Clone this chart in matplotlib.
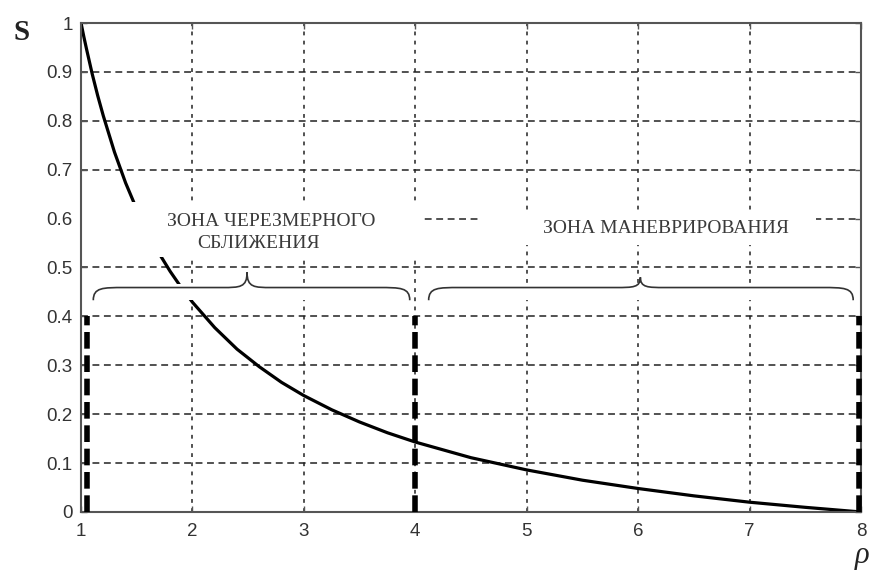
import matplotlib
matplotlib.use("Agg")
import matplotlib.pyplot as plt
from matplotlib.patches import Rectangle, PathPatch
from matplotlib.path import Path

# ---- data ----
rho = [1.0, 1.025, 1.05, 1.1, 1.15, 1.2, 1.3, 1.4, 1.5, 1.6, 1.7, 1.8, 1.9, 2.0, 2.2, 2.4,
       2.6, 2.8, 3.0, 3.25, 3.5, 3.75, 4.0, 4.5, 5.0, 5.5, 6.0, 6.5, 7.0, 7.5, 8.0]
S = [1.0, 0.972, 0.946, 0.896, 0.851, 0.810, 0.736, 0.673, 0.619, 0.571, 0.529, 0.492,
     0.459, 0.429, 0.377, 0.333, 0.297, 0.265, 0.238, 0.209, 0.184, 0.162, 0.143,
     0.111, 0.086, 0.065, 0.048, 0.033, 0.020, 0.0095, 0.0]

zone_bounds = [1.05, 4.0, 7.985]      # thick dashed boundary lines
zone_height = 0.4
x_ticks = [1, 2, 3, 4, 5, 6, 7, 8]
y_ticks = [0, 0.1, 0.2, 0.3, 0.4, 0.5, 0.6, 0.7, 0.8, 0.9, 1.0]
y_tick_labels = ["0", "0.1", "0.2", "0.3", "0.4", "0.5", "0.6", "0.7", "0.8", "0.9", "1"]
zone1_lines = ["ЗОНА ЧЕРЕЗМЕРНОГО", "СБЛИЖЕНИЯ"]
zone2_label = "ЗОНА МАНЕВРИРОВАНИЯ"

fig = plt.figure(figsize=(8.79, 5.75), dpi=100)
ax = fig.add_axes([0.0922, 0.1096, 0.8873, 0.8504])
ax.set_xlim(1, 8)
ax.set_ylim(0, 1)
ax.set_axisbelow(True)

# grid
ax.set_xticks(x_ticks)
ax.set_yticks(y_ticks)
ax.set_yticklabels(y_tick_labels)
ax.set_xticklabels([str(t) for t in x_ticks])
for xv in x_ticks[1:-1]:
    ax.axvline(xv, color="#222222", lw=1.1, dashes=(2.5, 3.5), zorder=0.5)
for yv in y_ticks[1:-1]:
    ax.axhline(yv, color="#222222", lw=1.1, dashes=(4.5, 3.0), zorder=0.5)

# curve
ax.plot(rho, S, color="black", lw=2.3, zorder=2, solid_joinstyle="round")

# thick dashed zone boundaries
for xb in zone_bounds:
    ax.plot([xb, xb], [0, zone_height], color="black", lw=4.0, dashes=(3.0, 1.2), zorder=6,
            solid_capstyle="butt", clip_on=False)

# white backgrounds behind the labels
ax.add_patch(Rectangle((1.0, 0.522), 3.08, 0.111, facecolor="white", edgecolor="none", zorder=2.2))
ax.add_patch(Rectangle((4.56, 0.547), 3.04, 0.067, facecolor="white", edgecolor="none", zorder=2.2))
ax.add_patch(Rectangle((1.11, 0.434), 2.84, 0.032, facecolor="white", edgecolor="none", zorder=2.2))
ax.add_patch(Rectangle((4.12, 0.434), 3.81, 0.032, facecolor="white", edgecolor="none", zorder=2.2))


def brace(x0, x1, xt, y_end, y_arm, y_tip):
    d = 0.28
    dt = 0.22
    verts = [
        (x0, y_end),
        (x0, y_arm), (x0 + d * 0.3, y_arm), (x0 + d, y_arm),
        (xt - dt, y_arm),
        (xt - dt * 0.3, y_arm), (xt, y_arm), (xt, y_tip),
        (xt, y_arm), (xt + dt * 0.3, y_arm), (xt + dt, y_arm),
        (x1 - d, y_arm),
        (x1 - d * 0.3, y_arm), (x1, y_arm), (x1, y_end),
    ]
    codes = [Path.MOVETO,
             Path.CURVE4, Path.CURVE4, Path.CURVE4,
             Path.LINETO,
             Path.CURVE4, Path.CURVE4, Path.CURVE4,
             Path.CURVE4, Path.CURVE4, Path.CURVE4,
             Path.LINETO,
             Path.CURVE4, Path.CURVE4, Path.CURVE4]
    ax.add_patch(PathPatch(Path(verts, codes), facecolor="none", edgecolor="#333333",
                           lw=1.2, zorder=3))


brace(1.11, 3.95, 2.49, 0.433, 0.459, 0.49)
brace(4.12, 7.93, 6.02, 0.433, 0.459, 0.48)

serif = ["Liberation Serif", "DejaVu Serif"]
ax.text(2.71, 0.594, zone1_lines[0], family=serif, fontsize=14, color="#3a3a3a",
        ha="center", va="center", zorder=4)
ax.text(2.59, 0.550, zone1_lines[1], family=serif, fontsize=14, color="#3a3a3a",
        ha="center", va="center", zorder=4)
ax.text(6.25, 0.580, zone2_label, family=serif, fontsize=14, color="#3a3a3a",
        ha="center", va="center", zorder=4)

# axes styling
for sp in ax.spines.values():
    sp.set_color("#555555")
    sp.set_linewidth(1.5)
    sp.set_zorder(5)
ax.tick_params(direction="in", length=4, width=1, colors="#555555",
               labelcolor="#333333", labelsize=13.5, top=True, right=True)
for lab in ax.get_xticklabels() + ax.get_yticklabels():
    lab.set_family(["Liberation Sans", "DejaVu Sans"])
ax.tick_params(axis="x", pad=8)
ax.tick_params(axis="y", pad=6)

fig.text(22 / 879, 1 - 32 / 575, "S", family=serif, fontsize=21, fontweight="bold",
         color="#222222", ha="center", va="center")
fig.text(862 / 879, 1 - 555 / 575, "ρ", family=serif, style="italic", fontsize=22,
         color="#222222", ha="center", va="center")

fig.savefig("out.png", dpi=100)
